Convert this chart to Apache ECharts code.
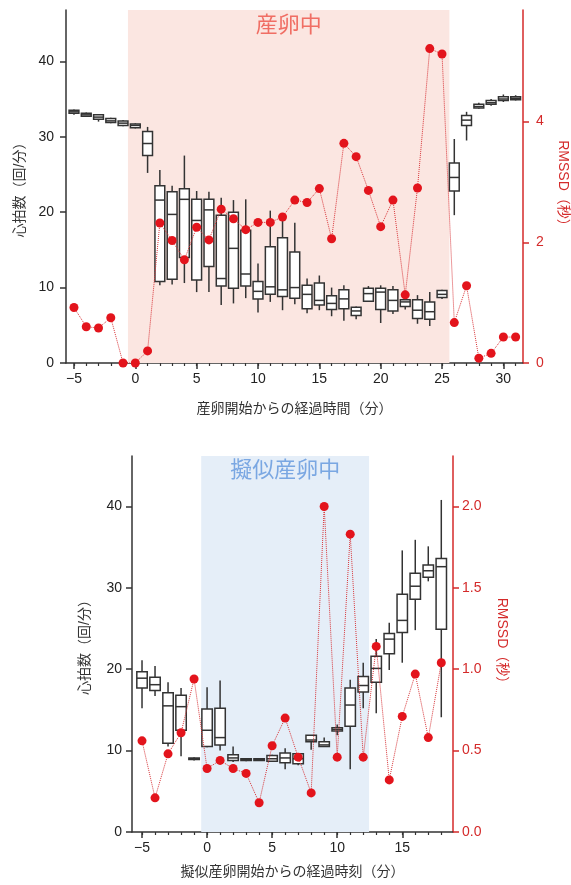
<!DOCTYPE html>
<html>
<head>
<meta charset="utf-8">
<script src="https://cdn.jsdelivr.net/npm/echarts@6.0.0/dist/echarts.min.js"></script>
<style>
  html, body { margin: 0; padding: 0; background: #fff; }
  #chart { width: 571px; height: 885px; }
</style>
</head>
<body>
<div id="chart"></div>
<script>
// ---- 上: 産卵 ----
var topMinutes = [-5,-4,-3,-2,-1,0,1,2,3,4,5,6,7,8,9,10,11,12,13,14,15,16,17,18,19,20,21,22,23,24,25,26,27,28,29,30,31];
var topLow  = [32.9,32.6,32.0,31.8,31.4,31.1,25.2,10.3,10.4,10.6, 9.4, 9.4, 7.7, 7.9, 8.6, 6.7, 8.1, 7.0, 7.8, 6.6, 7.0, 6.2, 5.6, 5.8, 8.2, 5.3, 6.5, 7.1, 5.2, 4.9, 8.5,19.6,29.5,33.7,34.1,34.6,34.8];
var topQ1   = [33.1,32.7,32.3,31.9,31.5,31.2,27.5,10.8,11.1,14.0,11.0,12.8,10.2, 9.9,10.2, 8.5, 9.1, 8.8, 8.6, 7.2, 7.7, 7.1, 7.2, 6.3, 8.2, 7.1, 6.9, 7.5, 5.9, 5.8, 8.7,22.8,31.5,33.8,34.3,34.8,34.9];
var topMed  = [33.3,32.9,32.6,32.1,31.8,31.5,29.1,21.6,19.7,21.7,18.9,20.3,11.2,15.2,11.8, 9.5,10.1, 9.7,10.0, 9.1, 8.3, 7.9, 8.5, 6.9, 9.2, 9.4, 8.3, 8.1, 7.0, 6.8, 9.1,24.6,32.2,34.0,34.5,35.0,35.1];
var topQ3   = [33.5,33.1,32.9,32.4,32.1,31.7,30.7,23.5,22.7,23.1,21.7,21.7,19.6,20.0,17.6,10.8,15.4,16.6,14.7,10.3,10.6, 8.9, 9.7, 7.4, 9.9, 9.9, 9.7, 8.4, 8.4, 8.1, 9.6,26.5,32.8,34.3,34.8,35.3,35.3];
var topHigh = [33.6,33.2,33.0,32.5,32.2,31.8,31.3,25.6,23.5,27.5,22.8,22.7,21.9,21.6,21.7,13.2,20.2,19.1,18.6,11.2,11.6,10.0,10.3, 7.5,10.2,10.3,10.2, 9.0, 9.0, 9.4, 9.7,29.7,33.3,34.5,35.0,35.6,35.5];
var topRmssd = [0.92,0.60,0.58,0.75,0.0,0.0,0.20,2.32,2.03,1.71,2.25,2.04,2.55,2.39,2.21,2.33,2.33,2.42,2.70,2.66,2.89,2.06,3.64,3.42,2.86,2.26,2.70,1.13,2.90,5.21,5.12,0.67,1.28,0.08,0.16,0.43,0.43];
var topPeriod = [-0.6, 25.6];

// ---- 下: 擬似産卵 ----
var botMinutes = [-5,-4,-3,-2,-1,0,1,2,3,4,5,6,7,8,9,10,11,12,13,14,15,16,17,18];
var botLow  = [15.2,16.7,10.5, 9.3,8.8,10.4,10.0,8.6,8.7,8.8,8.6,7.7,8.2,10.1,10.5,11.9, 7.7,15.2,14.6,19.9,20.8,24.8,30.8,14.1];
var botQ1   = [17.7,17.4,10.9,12.5,8.9,10.5,10.7,8.8,8.8,8.8,8.7,8.5,8.4,11.1,10.5,12.4,13.0,17.2,18.4,21.9,24.5,28.6,31.3,24.9];
var botMed  = [18.9,18.1,15.5,15.4,9.0,12.5,11.6,9.1,8.9,8.9,9.0,9.1,9.0,11.3,10.7,12.6,15.6,18.0,20.1,23.7,26.0,30.2,32.1,32.6];
var botQ3   = [19.7,19.0,17.1,16.8,9.1,15.1,15.2,9.5,9.0,9.0,9.4,9.7,9.6,11.9,11.1,12.8,17.7,19.1,21.6,24.4,29.2,31.8,32.8,33.6];
var botHigh = [21.1,20.4,18.4,17.7,9.2,17.8,18.6,10.5,9.1,9.0,9.5,10.3,9.6,11.9,11.6,13.2,18.7,20.8,23.7,25.7,34.6,35.9,35.1,40.8];
var botRmssd = [0.56,0.21,0.48,0.61,0.94,0.39,0.44,0.39,0.36,0.18,0.53,0.70,0.46,0.24,2.00,0.46,1.83,0.46,1.14,0.32,0.71,0.97,0.58,1.04];
var botPeriod = [-0.45, 12.45];

var majorTop = [-5,0,5,10,15,20,25,30];
var majorBot = [-5,0,5,10,15];
var hrTicks = [0,10,20,30,40];
var rmssdTopTicks = [0,2,4];
var rmssdBotTicks = [0,0.5,1.0,1.5,2.0];

var FONT = "'Liberation Sans', 'Noto Sans CJK JP', sans-serif";
var RED = '#d42a2a';
var DARK = '#333';

function zipBox(xs, lo, q1, md, q3, hi) {
  return xs.map(function (x, i) { return [x, lo[i], q1[i], md[i], q3[i], hi[i]]; });
}
function zipLine(xs, ys) {
  return xs.map(function (x, i) { return [x, ys[i]]; });
}
function range(a, b) {
  var r = [];
  for (var i = a; i <= b; i++) r.push(i);
  return r;
}

// 箱ひげ図を custom で描く
function renderBox(params, api) {
  var x = api.value(0);
  var lo = api.coord([x, api.value(1)]);
  var q1 = api.coord([x, api.value(2)]);
  var md = api.coord([x, api.value(3)]);
  var q3 = api.coord([x, api.value(4)]);
  var hi = api.coord([x, api.value(5)]);
  var w = api.size([0.8, 0])[0];
  var ls = { stroke: DARK, lineWidth: 1.5 };
  return {
    type: 'group',
    children: [
      { type: 'line', shape: { x1: lo[0], y1: lo[1], x2: q1[0], y2: q1[1] }, style: ls },
      { type: 'line', shape: { x1: q3[0], y1: q3[1], x2: hi[0], y2: hi[1] }, style: ls },
      { type: 'rect', shape: { x: q3[0] - w / 2, y: q3[1], width: w, height: Math.max(q1[1] - q3[1], 1.5) },
        style: { fill: '#fff', stroke: DARK, lineWidth: 1.5 } },
      { type: 'line', shape: { x1: md[0] - w / 2, y1: md[1], x2: md[0] + w / 2, y2: md[1] }, style: ls }
    ]
  };
}

function minusFmt(v) { return String(v).replace('-', '\u2212'); }

function mainX(grid, min, max, labels, name, nameGap) {
  return {
    type: 'value', gridIndex: grid, min: min, max: max, position: 'bottom',
    name: name, nameLocation: 'middle', nameGap: nameGap,
    nameTextStyle: { fontSize: 14, color: DARK, fontFamily: FONT },
    axisLine: { onZero: false, lineStyle: { color: DARK, width: 1.5 } },
    axisTick: { customValues: labels, length: 6, lineStyle: { color: DARK, width: 1.5 } },
    axisLabel: { customValues: labels, margin: 9, fontSize: 14, color: '#222', formatter: minusFmt },
    splitLine: { show: false }
  };
}
function minorX(grid, min, max, ticks) {
  return {
    type: 'value', gridIndex: grid, min: min, max: max, position: 'bottom',
    axisLine: { show: false, onZero: false },
    axisTick: { customValues: ticks, length: 3, lineStyle: { color: DARK, width: 1.2 } },
    axisLabel: { show: false },
    splitLine: { show: false }
  };
}
function hrY(grid, max, nameGap, margin) {
  return {
    type: 'value', gridIndex: grid, min: 0, max: max, position: 'left',
    name: '心拍数（回/分）', nameLocation: 'middle', nameGap: nameGap,
    nameTextStyle: { fontSize: 14, color: DARK, fontFamily: FONT },
    axisLine: { show: true, onZero: false, lineStyle: { color: DARK, width: 1.5 } },
    axisTick: { show: true, customValues: hrTicks, length: 6, lineStyle: { color: DARK, width: 1.5 } },
    axisLabel: { customValues: hrTicks, margin: margin, fontSize: 14, color: '#222' },
    splitLine: { show: false }
  };
}
function rmssdY(grid, max, ticks, nameGap, margin, fmt) {
  return {
    type: 'value', gridIndex: grid, min: 0, max: max, position: 'right',
    name: 'RMSSD（秒）', nameLocation: 'middle', nameGap: nameGap, nameRotate: -90,
    nameTextStyle: { fontSize: 14, color: RED, fontFamily: FONT },
    axisLine: { show: true, onZero: false, lineStyle: { color: RED, width: 1.5 } },
    axisTick: { show: true, customValues: ticks, length: 6, lineStyle: { color: RED, width: 1.5 } },
    axisLabel: { customValues: ticks, margin: margin, fontSize: 14, color: RED, formatter: fmt },
    splitLine: { show: false }
  };
}

var chart = echarts.init(document.getElementById('chart'));
var option = {
  animation: false,
  backgroundColor: '#fff',
  textStyle: { fontFamily: FONT },
  grid: [
    { left: 66, right: 48, top: 10, height: 353, outerBoundsMode: 'none', containLabel: false },
    { left: 132, right: 118, top: 456, height: 376, outerBoundsMode: 'none', containLabel: false }
  ],
  xAxis: [
    mainX(0, -5.65, 31.6, majorTop, '産卵開始からの経過時間（分）', 39),
    minorX(0, -5.65, 31.6, range(-5, 31)),
    mainX(1, -5.77, 18.9, majorBot, '擬似産卵開始からの経過時刻（分）', 33),
    minorX(1, -5.77, 18.9, range(-5, 18))
  ],
  yAxis: [
    hrY(0, 46.8, 33, 12),
    rmssdY(0, 5.85, rmssdTopTicks, 33, 13, null),
    hrY(1, 46.2, 40, 10),
    rmssdY(1, 2.31, rmssdBotTicks, 42, 9, function (v) { return v.toFixed(1); })
  ],
  series: [
    {
      name: '産卵中', type: 'line', xAxisIndex: 0, yAxisIndex: 0, data: [], z: 1,
      markArea: {
        silent: true,
        itemStyle: { color: '#fbe6e1' },
        label: { show: true, position: 'insideTop', distance: 5, fontSize: 22, color: '#f06e64', fontFamily: FONT },
        data: [[{ name: '産卵中', xAxis: topPeriod[0] }, { xAxis: topPeriod[1] }]]
      }
    },
    {
      type: 'custom', xAxisIndex: 0, yAxisIndex: 0, z: 2,
      renderItem: renderBox,
      encode: { x: 0, y: [1, 2, 3, 4, 5] },
      data: zipBox(topMinutes, topLow, topQ1, topMed, topQ3, topHigh)
    },
    {
      type: 'line', xAxisIndex: 0, yAxisIndex: 1, z: 3,
      symbol: 'circle', symbolSize: 9, showSymbol: true,
      itemStyle: { color: '#e3141c' },
      lineStyle: { color: '#d8363a', width: 1, type: 'dotted' },
      data: zipLine(topMinutes, topRmssd)
    },
    {
      name: '擬似産卵中', type: 'line', xAxisIndex: 2, yAxisIndex: 2, data: [], z: 1,
      markArea: {
        silent: true,
        itemStyle: { color: '#e5eef8' },
        label: { show: true, position: 'insideTop', distance: 4, fontSize: 22, color: '#7aa7e2', fontFamily: FONT },
        data: [[{ name: '擬似産卵中', xAxis: botPeriod[0] }, { xAxis: botPeriod[1] }]]
      }
    },
    {
      type: 'custom', xAxisIndex: 2, yAxisIndex: 2, z: 2,
      renderItem: renderBox,
      encode: { x: 0, y: [1, 2, 3, 4, 5] },
      data: zipBox(botMinutes, botLow, botQ1, botMed, botQ3, botHigh)
    },
    {
      type: 'line', xAxisIndex: 2, yAxisIndex: 3, z: 3,
      symbol: 'circle', symbolSize: 9, showSymbol: true,
      itemStyle: { color: '#e3141c' },
      lineStyle: { color: '#d8363a', width: 1, type: 'dotted' },
      data: zipLine(botMinutes, botRmssd)
    }
  ]
};
chart.setOption(option);
</script>
</body>
</html>
